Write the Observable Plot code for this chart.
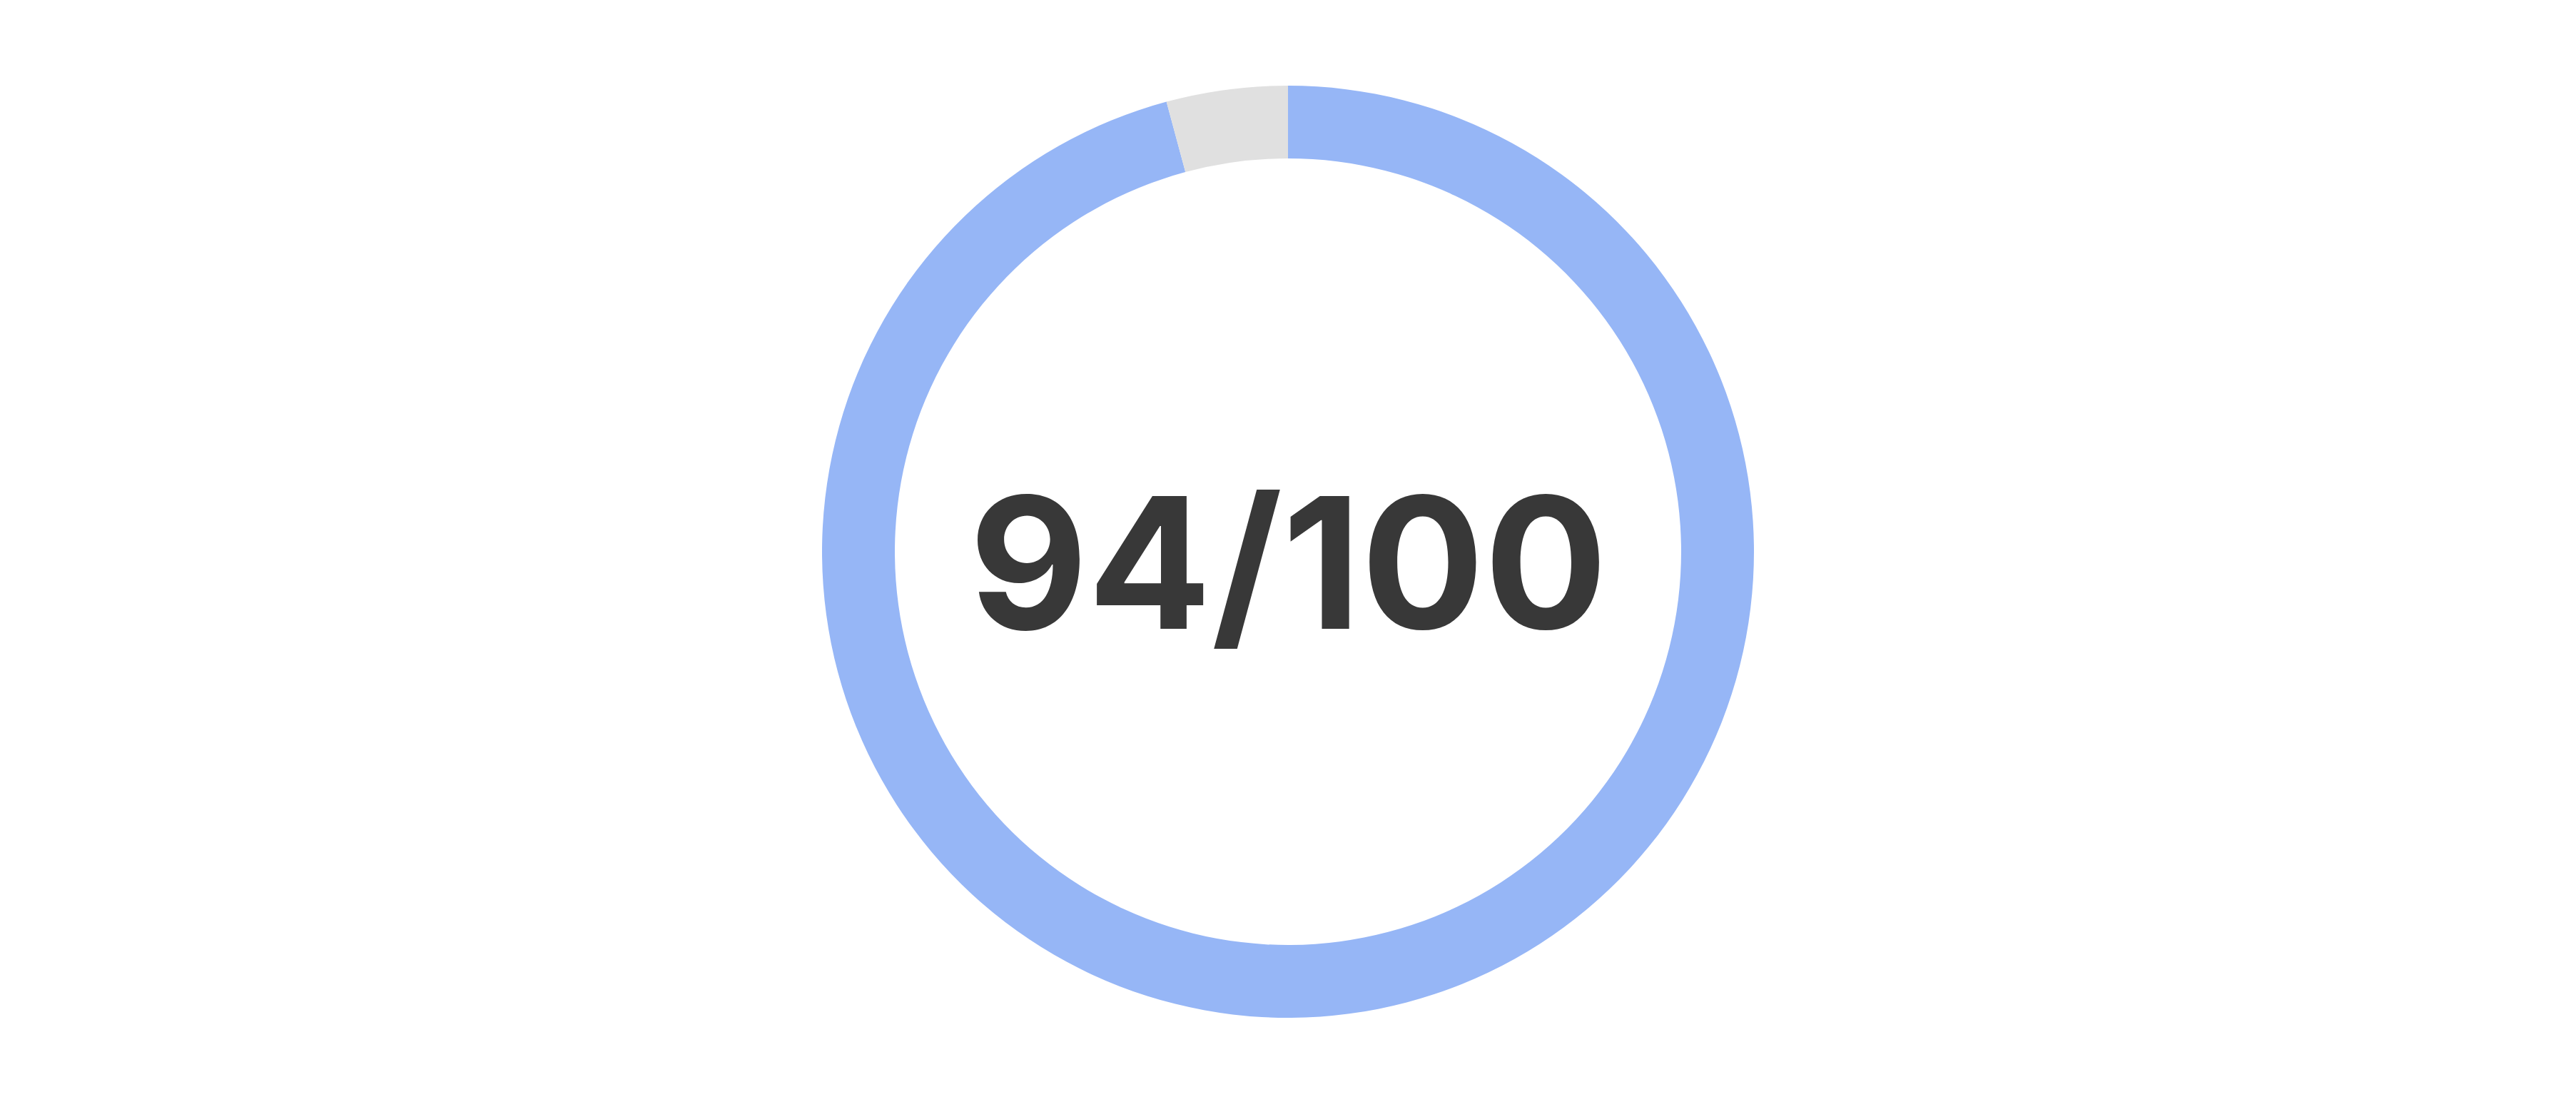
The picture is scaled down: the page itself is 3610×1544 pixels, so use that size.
<!DOCTYPE html>
<html>
<head>
<meta charset="utf-8">
<script src="https://cdn.jsdelivr.net/npm/d3@7"></script>
<script src="https://cdn.jsdelivr.net/npm/@observablehq/plot@0.6"></script>
<style>
  html, body { margin: 0; padding: 0; background: #fff; overflow: hidden; }
</style>
</head>
<body>
<div id="chart"></div>
<script>
const WIDTH = 3610;
const HEIGHT = 1544;

// score shown in the middle
const score = 94;
const maxScore = 100;

// ring segments, share of the full turn
const segments = ["score", "rest"];
const shares = [95.8, 4.2];
const colours = ["#96b6f6", "#e0e0e0"];

// running start/end of each segment along the ring
var data = [];
var acc = 0;
for (var i = 0; i < segments.length; i++) {
    data.push({segment: segments[i], start: acc, end: acc + shares[i]});
    acc += shares[i];
}

const innerR = 551;
const outerR = 653;

// barX gives the scaled start/end (in radians); draw them as ring arcs
function ringRender(index, scales, values, dimensions) {
    const cx = dimensions.width / 2;
    const cy = dimensions.height / 2 + 1;
    const arc = d3.arc().innerRadius(innerR).outerRadius(outerR);
    const g = d3.create("svg:g").attr("transform", `translate(${cx},${cy})`);
    for (const i of index) {
        g.append("path")
            .attr("d", arc({startAngle: values.x1[i], endAngle: values.x2[i]}))
            .attr("fill", values.fill[i]);
    }
    return g.node();
}

const chart = Plot.plot({
    width: WIDTH,
    height: HEIGHT,
    margin: 0,
    x: {domain: [0, d3.sum(shares)], range: [0, 2 * Math.PI], axis: null},
    color: {domain: segments, range: colours},
    style: {background: "#fff"},
    marks: [
        Plot.barX(data, {x1: "start", x2: "end", fill: "segment", render: ringRender}),
        Plot.text([`${score}/${maxScore}`], {
            frameAnchor: "middle",
            lineAnchor: "bottom",
            dy: 108,
            fontSize: 256,
            fontWeight: 700,
            fontFamily: "Inter",
            fill: "#383838"
        })
    ]
});
document.getElementById("chart").append(chart);
</script>
</body>
</html>
